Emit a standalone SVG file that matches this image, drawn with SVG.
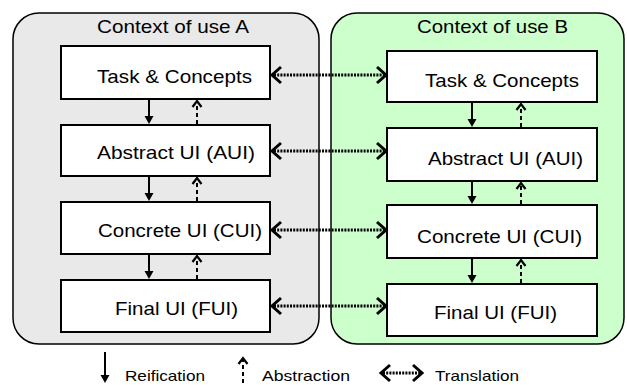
<svg xmlns="http://www.w3.org/2000/svg" width="627" height="385" viewBox="0 0 627 385">
<style>
text{font-family:"Liberation Sans",Arial,sans-serif;fill:#000}
.lbl{font-size:18.5px}
.ttl{font-size:19px}
.leg{font-size:15px}
.box{fill:#fff;stroke:#000;stroke-width:2}
.ctx{stroke:#000;stroke-width:1.5}
.re{stroke:#000;stroke-width:2;fill:none}
.ab{stroke:#000;stroke-width:2;fill:none;stroke-dasharray:4 3}
.tr{stroke:#000;stroke-width:3;fill:none;stroke-dasharray:2 1.2}
.hf{fill:#000;stroke:none}
.ho{fill:none;stroke:#000;stroke-width:2.2}
.hc{fill:none;stroke:#000;stroke-width:3}
</style>
<defs>
<path id="down" class="hf" d="M-4.5,-8 L4.5,-8 L0,0 z"/>
<path id="up" class="ho" d="M-4.5,6 L0,0 L4.5,6"/>
<path id="left" class="hc" d="M9,-8 L0,0 L9,8"/>
<path id="right" class="hc" d="M-9,-8 L0,0 L-9,8"/>
</defs>
<g id="contextA">
<rect class="ctx" x="13" y="13" width="306" height="331" rx="26" ry="26" fill="#e9e9e9"/>
<text class="ttl" x="97" y="33" textLength="152" lengthAdjust="spacingAndGlyphs">Context of use A</text>
</g>
<g id="contextB">
<rect class="ctx" x="331" y="13" width="293" height="331" rx="26" ry="26" fill="#ccffcc"/>
<text class="ttl" x="417" y="33" textLength="151" lengthAdjust="spacingAndGlyphs">Context of use B</text>
</g>
<g id="taskA"><rect class="box" x="61" y="46" width="209" height="53"/><text class="lbl" x="97" y="83" textLength="155" lengthAdjust="spacingAndGlyphs">Task &amp; Concepts</text></g>
<g id="auiA"><rect class="box" x="61" y="125" width="209" height="51"/><text class="lbl" x="97" y="159" textLength="158" lengthAdjust="spacingAndGlyphs">Abstract UI (AUI)</text></g>
<g id="cuiA"><rect class="box" x="61" y="202" width="209" height="52"/><text class="lbl" x="98" y="237" textLength="164" lengthAdjust="spacingAndGlyphs">Concrete UI (CUI)</text></g>
<g id="fuiA"><rect class="box" x="61" y="280" width="209" height="52"/><text class="lbl" x="115" y="315" textLength="123" lengthAdjust="spacingAndGlyphs">Final UI (FUI)</text></g>
<g id="taskB"><rect class="box" x="387" y="51" width="210" height="51"/><text class="lbl" x="425" y="87" textLength="154" lengthAdjust="spacingAndGlyphs">Task &amp; Concepts</text></g>
<g id="auiB"><rect class="box" x="387" y="128" width="210" height="53"/><text class="lbl" x="428" y="165" textLength="155" lengthAdjust="spacingAndGlyphs">Abstract UI (AUI)</text></g>
<g id="cuiB"><rect class="box" x="387" y="205" width="210" height="53"/><text class="lbl" x="417" y="243" textLength="165" lengthAdjust="spacingAndGlyphs">Concrete UI (CUI)</text></g>
<g id="fuiB"><rect class="box" x="387" y="284" width="210" height="52"/><text class="lbl" x="434" y="319" textLength="123" lengthAdjust="spacingAndGlyphs">Final UI (FUI)</text></g>
<g id="connectors">
<line class="re" x1="149" y1="100" x2="149" y2="118"/><use href="#down" x="149" y="124"/>
<line class="re" x1="149" y1="177" x2="149" y2="195"/><use href="#down" x="149" y="201"/>
<line class="re" x1="149" y1="255" x2="149" y2="273"/><use href="#down" x="149" y="279"/>
<line class="ab" x1="197" y1="124" x2="197" y2="101"/><use href="#up" x="197" y="101"/>
<line class="ab" x1="197" y1="201" x2="197" y2="178"/><use href="#up" x="197" y="178"/>
<line class="ab" x1="197" y1="279" x2="197" y2="256"/><use href="#up" x="197" y="256"/>
<line class="re" x1="472" y1="103" x2="472" y2="121"/><use href="#down" x="472" y="127"/>
<line class="re" x1="472" y1="182" x2="472" y2="198"/><use href="#down" x="472" y="204"/>
<line class="re" x1="472" y1="259" x2="472" y2="277"/><use href="#down" x="472" y="283"/>
<line class="ab" x1="521" y1="127" x2="521" y2="104"/><use href="#up" x="521" y="104"/>
<line class="ab" x1="521" y1="204" x2="521" y2="183"/><use href="#up" x="521" y="183"/>
<line class="ab" x1="521" y1="283" x2="521" y2="260"/><use href="#up" x="521" y="260"/>
<line class="tr" x1="274" y1="75" x2="384" y2="75"/><use href="#left" x="272" y="75"/><use href="#right" x="386" y="75"/>
<line class="tr" x1="274" y1="151" x2="384" y2="151"/><use href="#left" x="272" y="151"/><use href="#right" x="386" y="151"/>
<line class="tr" x1="274" y1="230" x2="384" y2="230"/><use href="#left" x="272" y="230"/><use href="#right" x="386" y="230"/>
<line class="tr" x1="274" y1="306" x2="384" y2="306"/><use href="#left" x="272" y="306"/><use href="#right" x="386" y="306"/>
</g>
<g id="legend">
<line class="re" x1="105" y1="352" x2="105" y2="376"/><use href="#down" x="105" y="383"/>
<text class="leg" x="125" y="381" textLength="80" lengthAdjust="spacingAndGlyphs">Reification</text>
<line class="ab" x1="243" y1="383" x2="243" y2="360"/><use href="#up" x="243" y="358"/>
<text class="leg" x="262" y="381" textLength="88" lengthAdjust="spacingAndGlyphs">Abstraction</text>
<line class="tr" x1="383" y1="373" x2="420" y2="373"/><use href="#left" x="381" y="373"/><use href="#right" x="422" y="373"/>
<text class="leg" x="435" y="381" textLength="84" lengthAdjust="spacingAndGlyphs">Translation</text>
</g>
</svg>
